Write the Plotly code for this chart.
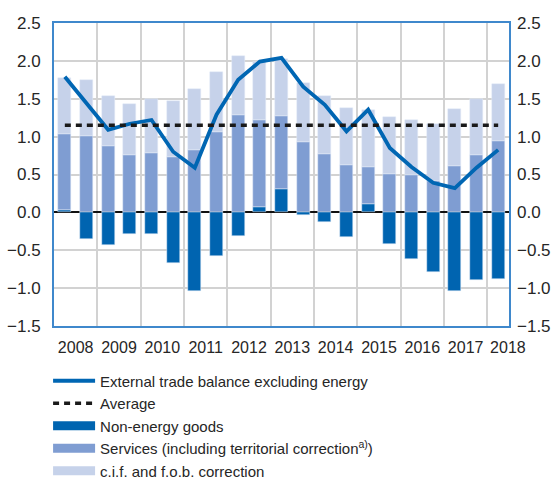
import plotly.graph_objects as go

# Half-year periods 2008 H1 ... 2018 H1
periods = ["2008 H1", "2008 H2", "2009 H1", "2009 H2", "2010 H1", "2010 H2",
           "2011 H1", "2011 H2", "2012 H1", "2012 H2", "2013 H1", "2013 H2",
           "2014 H1", "2014 H2", "2015 H1", "2015 H2", "2016 H1", "2016 H2",
           "2017 H1", "2017 H2", "2018 H1"]
year_labels = ["2008", "2009", "2010", "2011", "2012", "2013",
               "2014", "2015", "2016", "2017", "2018"]

non_energy_goods = [0.03, -0.35, -0.43, -0.28, -0.28, -0.67, -1.04, -0.575, -0.31, 0.07, 0.31,
                    -0.03, -0.13, -0.33, 0.11, -0.415, -0.61, -0.79, -1.04, -0.89, -0.88]
services = [1.01, 1.01, 0.87, 0.76, 0.79, 0.73, 0.83, 1.06, 1.29, 1.15, 0.96,
            0.93, 0.77, 0.62, 0.49, 0.51, 0.49, 0.41, 0.61, 0.76, 0.94]
cif_fob = [0.74, 0.74, 0.66, 0.67, 0.71, 0.74, 0.80, 0.79, 0.77, 0.77, 0.76,
           0.78, 0.77, 0.76, 0.75, 0.75, 0.73, 0.76, 0.76, 0.74, 0.76]
trade_balance = [1.79, 1.44, 1.09, 1.17, 1.22, 0.80, 0.59, 1.29, 1.75, 1.99, 2.04,
                 1.66, 1.42, 1.07, 1.355, 0.85, 0.60, 0.39, 0.32, 0.59, 0.825]
average_value = 1.15
average = [average_value] * len(periods)

x = list(range(len(periods)))
year_pos = [2 * i + 0.5 for i in range(len(year_labels) - 1)] + [len(periods) - 0.55]
grid_pos = [2 * i + 1.5 for i in range(len(year_labels) - 1)]

C_GOODS = "#0064b0"
C_SERV = "#7f9dd2"
C_CIF = "#c6d2ea"
C_LINE = "#0066b3"
FONT = "Liberation Sans, Arial, sans-serif"
TXT = "#262626"

fig = go.Figure()
fig.add_bar(x=x, y=non_energy_goods, marker_color=C_GOODS, width=0.6, showlegend=False,
            name="Non-energy goods")
fig.add_bar(x=x, y=services, marker_color=C_SERV, width=0.6, showlegend=False,
            name="Services")
fig.add_bar(x=x, y=cif_fob, marker_color=C_CIF, width=0.6, showlegend=False,
            name="c.i.f. and f.o.b. correction")
fig.add_scatter(x=x, y=trade_balance, mode="lines", line=dict(color=C_LINE, width=3.8),
                name="External trade balance excluding energy")
fig.add_scatter(x=x, y=average, mode="lines", yaxis="y2",
                line=dict(color="#1a1a1a", width=3.5, dash="6px,5px"),
                name="Average")
# legend entries for the bar series (wide swatches)
for nm, col in [("Non-energy goods", C_GOODS),
                ("Services (including territorial correction<sup>a)</sup>)", C_SERV),
                ("c.i.f. and f.o.b. correction", C_CIF)]:
    fig.add_scatter(x=[None], y=[None], mode="lines", line=dict(color=col, width=9),
                    name=nm)

frame = "#3f88cc"
fig.update_layout(
    width=553, height=479,
    margin=dict(l=54, r=44, t=23, b=153, autoexpand=False),
    barmode="relative", bargap=0,
    plot_bgcolor="white", paper_bgcolor="white",
    font=dict(family=FONT, size=17, color=TXT),
    xaxis=dict(range=[-0.5, len(periods) - 0.5], tickmode="array", tickvals=year_pos,
               ticktext=year_labels, showgrid=False, zeroline=False,
               showline=True, linecolor=frame, linewidth=2, mirror=True,
               ticks="", ticklabelstandoff=6, tickfont=dict(size=16),
               minor=dict(tickmode="array", tickvals=grid_pos, showgrid=True,
                          gridcolor="#d2d2d2", gridwidth=1.5, ticks="")),
    yaxis=dict(range=[-1.5, 2.5], dtick=0.5, tickformat=".1f", showgrid=True,
               gridcolor="#d2d2d2", gridwidth=1.5, zeroline=True, zerolinecolor="#111",
               zerolinewidth=1.5, showline=True, linecolor=frame, linewidth=2, mirror=True,
               ticks="", ticklabelstandoff=8),
    yaxis2=dict(range=[-1.5, 2.5], dtick=0.5, tickformat=".1f", overlaying="y", side="right",
                showgrid=False, zeroline=False, ticks="", ticklabelstandoff=7),
    legend=dict(x=-0.013, xanchor="left", y=-0.127, yanchor="top", itemwidth=42,
                font=dict(size=15), bgcolor="rgba(0,0,0,0)", traceorder="normal"),
)

fig.write_html(
    "out.html",
    config={"displayModeBar": False},
    post_script="document.body.style.margin='0';document.body.style.overflow='hidden';",
)
